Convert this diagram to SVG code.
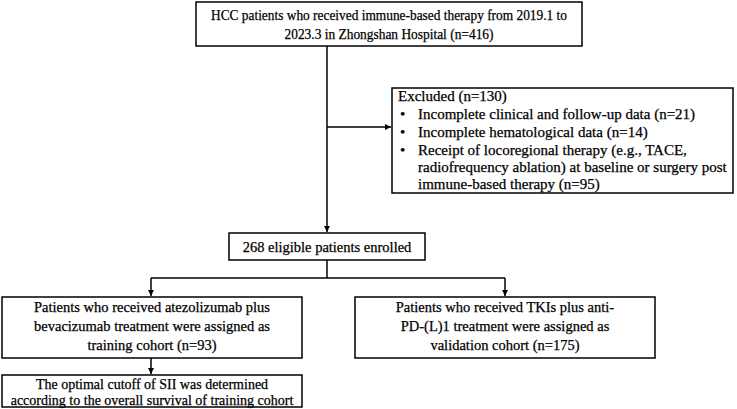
<svg xmlns="http://www.w3.org/2000/svg" width="737" height="409" viewBox="0 0 737 409">
<defs>
<marker id="ah" markerWidth="8" markerHeight="8" refX="6" refY="3" orient="auto" markerUnits="userSpaceOnUse">
<path d="M0,0 L6,3 L0,6 Z" fill="#000"/>
</marker>
<style>
.box{fill:#fff;stroke:#000;stroke-width:1.5}
.t{font-family:"Liberation Serif","Times New Roman",serif;font-size:14.5px;fill:#000;stroke:#000;stroke-width:0.25}
.e{font-size:15px}
.s{font-size:14px}
.c{text-anchor:middle}
.ln{fill:none;stroke:#000;stroke-width:1.5}
</style>
</defs>
<rect width="737" height="409" fill="#fff"/>
<g id="connectors">
<line class="ln" x1="327" y1="46" x2="327" y2="232" marker-end="url(#ah)"/>
<line class="ln" x1="327" y1="127" x2="391" y2="127" marker-end="url(#ah)"/>
<polyline class="ln" points="327,260 327,278"/>
<line class="ln" x1="151" y1="278" x2="505" y2="278"/>
<line class="ln" x1="151" y1="278" x2="151" y2="296" marker-end="url(#ah)"/>
<line class="ln" x1="505" y1="278" x2="505" y2="296" marker-end="url(#ah)"/>
<line class="ln" x1="151" y1="358" x2="151" y2="374" marker-end="url(#ah)"/>
</g>
<g id="n_total">
<rect class="box" x="196" y="2" width="386" height="44"/>
<text class="t c" x="389" y="20" textLength="356" lengthAdjust="spacingAndGlyphs">HCC patients who received immune-based therapy from 2019.1 to</text>
<text class="t c" x="389" y="39" textLength="209" lengthAdjust="spacingAndGlyphs">2023.3 in Zhongshan Hospital (n=416)</text>
</g>
<g id="n_excluded">
<rect class="box" x="392" y="88" width="341" height="105"/>
<text class="t e" x="398" y="101">Excluded (n=130)</text>
<text class="t e" x="400" y="119">•</text>
<text class="t e" x="418" y="119">Incomplete clinical and follow-up data (n=21)</text>
<text class="t e" x="400" y="137">•</text>
<text class="t e" x="418" y="137">Incomplete hematological data (n=14)</text>
<text class="t e" x="400" y="155">•</text>
<text class="t e" x="418" y="155">Receipt of locoregional therapy (e.g., TACE,</text>
<text class="t e" x="418" y="172">radiofrequency ablation) at baseline or surgery post</text>
<text class="t e" x="418" y="189">immune-based therapy  (n=95)</text>
</g>
<g id="n_enrolled">
<rect class="box" x="229" y="233" width="196" height="27"/>
<text class="t c" x="327" y="252">268 eligible patients enrolled</text>
</g>
<g id="n_training">
<rect class="box" x="2" y="297" width="300" height="61"/>
<text class="t c" x="152" y="312">Patients who received atezolizumab plus</text>
<text class="t c" x="152" y="331">bevacizumab  treatment were assigned as</text>
<text class="t c" x="152" y="350">training cohort (n=93)</text>
</g>
<g id="n_validation">
<rect class="box" x="355" y="297" width="300" height="61"/>
<text class="t c" x="505" y="312">Patients who received TKIs plus anti-</text>
<text class="t c" x="505" y="331">PD-(L)1  treatment were assigned as</text>
<text class="t c" x="505" y="350">validation cohort (n=175)</text>
</g>
<g id="n_cutoff">
<rect class="box" x="2" y="375" width="300" height="32"/>
<text class="t c s" x="152" y="389">The optimal cutoff of SII was determined</text>
<text class="t c s" x="152" y="405">according to the overall survival of training cohort</text>
</g>
</svg>
